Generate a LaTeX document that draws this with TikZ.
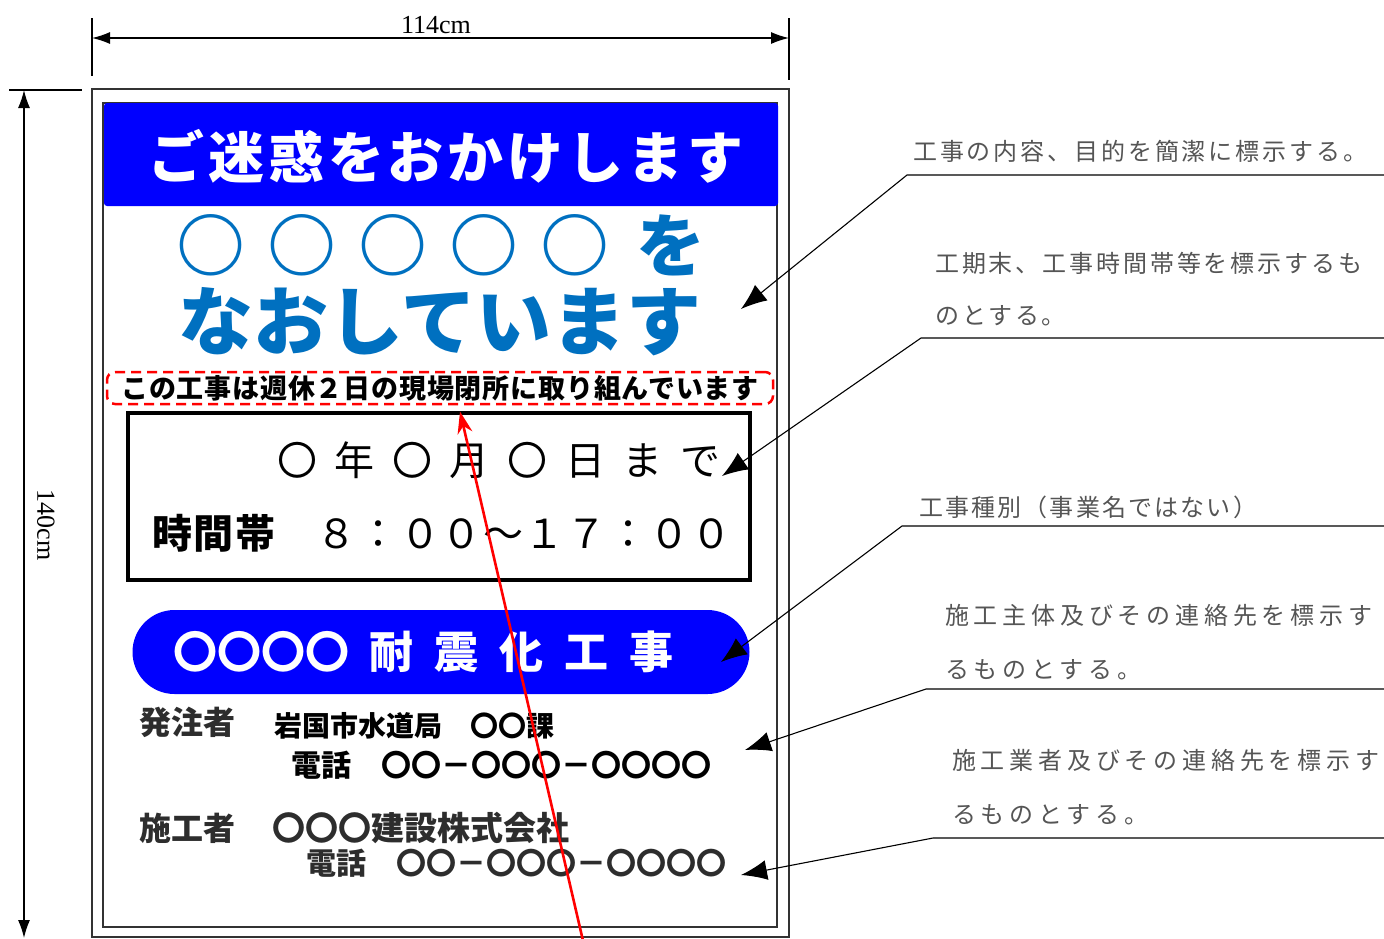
\documentclass[tikz,border=0pt]{standalone}
\usepackage{fontspec}
\setmainfont{Liberation Serif}
\newfontfamily\jp{Noto Sans CJK JP}
\newfontfamily\jplight{Noto Sans CJK JP Light}
\usepackage{tikz}
\usetikzlibrary{positioning, arrows, arrows.meta}
\definecolor{signblue}{RGB}{0,0,255}
\definecolor{textblue}{RGB}{0,112,192}
\definecolor{notegray}{RGB}{85,85,85}
\definecolor{inkgray}{RGB}{45,45,45}
\newcommand{\jpfont}[2]{\jp\fontsize{#1}{#1}\selectfont\addfontfeature{LetterSpace=#2}}
\newcommand{\jpbold}[2]{\jp\bfseries\fontsize{#1}{#1}\selectfont\addfontfeature{LetterSpace=#2}}

\begin{document}
\begin{tikzpicture}[x=1pt,y=-1pt,
    dimline/.style={line width=1.3pt,{Latex[length=18pt,width=12pt]}-{Latex[length=18pt,width=12pt]}},
    tickline/.style={line width=1.2pt},
    frame/.style={line width=1.6pt,draw=black!80},
    callout/.style={line width=1.1pt,-{Latex[length=26pt,width=20pt]}},
    redarrow/.style={red,line width=2.6pt,-{Stealth[length=22pt,width=15pt]}},
    note/.style={anchor=west,inner sep=0pt,align=left,text=notegray},
    signtext/.style={inner sep=0pt}]
    \useasboundingbox (0,0) rectangle (1384,938);

    % dimensions
    \draw[tickline] (92,18) -- (92,76) (789,18) -- (789,80) (9,90) -- (82,90);
    \coordinate (wleft) at (92,38);
    \coordinate (wright) at (789,38);
    \coordinate (htop) at (24,90);
    \coordinate (hbottom) at (24,938);
    \draw[dimline] (wleft) -- (wright);
    \draw[dimline] (htop) -- (hbottom);
    \node[signtext,font=\fontsize{26}{26}\selectfont] (width) at (436,25) {114cm};
    \node[signtext,font=\fontsize{26}{26}\selectfont,rotate=-90] (height) at (46,525) {140cm};

    % sign board
    \draw[frame] (92,89) rectangle (789,937);
    \draw[frame] (103,103) rectangle (777,927);
    \fill[signblue,rounded corners=3pt] (104,103) rectangle (778,206);
    \node[signtext,text=white,font=\jpbold{56}{7}] (header) at (446,156) {ご迷惑をおかけします};
    \node[signtext,anchor=west,text=textblue,font=\jplight\fontsize{69}{69}\selectfont\addfontfeature{LetterSpace=32}] (line1) at (176,245)
        {〇〇〇〇〇\hspace{27pt}{\jp\bfseries を}};
    \node[signtext,text=textblue,font=\jpbold{75}{0}] (line2) at (440,322) {なおしています};
    \node[draw=red,line width=2.5pt,dash pattern=on 10pt off 6pt,rounded corners=8pt,
        minimum width=666pt,minimum height=32pt,inner sep=0pt,font=\jpbold{27}{3}] (weekly) at (440,388)
        {この工事は週休２日の現場閉所に取り組んでいます};
    \node[draw,line width=4pt,minimum width=622pt,minimum height=167pt] (schedule) at (439,496) {};
    \node[signtext,anchor=west,font=\jpfont{40}{44}] (until) at (277,460) {〇年〇月〇日まで};
    \node[signtext,anchor=west,font=\jpfont{40}{4}] (hours) at (152,533) {{\bfseries 時間帯}　８：００～１７：００};
    \node[fill=signblue,rounded corners=42pt,minimum width=617pt,minimum height=84pt] (worktype) at (441,652) {};
    \node[signtext,anchor=west,text=white,font=\jpbold{44}{0}] (worktext) at (173,652)
        {〇〇〇〇\hspace{20pt}耐\hspace{21pt}震\hspace{21pt}化\hspace{21pt}工\hspace{21pt}事};
    \node[signtext,anchor=west,text=inkgray,font=\jpbold{32}{0}] (orderer) at (139,722) {発注者};
    \node[signtext,anchor=west,font=\jpbold{28}{0}] (bureau) at (274,726) {岩国市水道局　〇〇課};
    \node[signtext,anchor=west,font=\jpbold{30}{0}] (tel1) at (291,765) {電話　〇〇－〇〇〇－〇〇〇〇};
    \node[signtext,anchor=west,text=inkgray,font=\jpbold{32}{0}] (builder) at (139,828) {施工者};
    \node[signtext,anchor=west,text=inkgray,font=\jpbold{33}{0}] (company) at (272,828) {〇〇〇建設株式会社};
    \node[signtext,anchor=west,text=inkgray,font=\jpbold{30}{0}] (tel2) at (306,863) {電話　〇〇－〇〇〇－〇〇〇〇};

    % notes on the right
    \node[note,font=\jpfont{24}{12}] (note1) at (913,151) {工事の内容、目的を簡潔に標示する。};
    \node[note,font=\jp\fontsize{24}{52}\selectfont\addfontfeature{LetterSpace=12}] (note2) at (935,289)
        {工期末、工事時間帯等を標示するも\\のとする。};
    \node[note,font=\jpfont{24}{9}] (note3) at (919,507) {工事種別（事業名ではない）};
    \node[note,font=\jp\fontsize{24}{54}\selectfont\addfontfeature{LetterSpace=20}] (note4) at (945,642)
        {施工主体及びその連絡先を標示す\\るものとする。};
    \node[note,font=\jp\fontsize{24}{54}\selectfont\addfontfeature{LetterSpace=20}] (note5) at (952,787)
        {施工業者及びその連絡先を標示す\\るものとする。};

    \coordinate (end1) at (1384,175);  \coordinate (knee1) at (907,175);  \coordinate (tip1) at (741,309);
    \coordinate (end2) at (1384,338);  \coordinate (knee2) at (921,338);  \coordinate (tip2) at (722,476);
    \coordinate (end3) at (1384,526);  \coordinate (knee3) at (902,526);  \coordinate (tip3) at (721,662);
    \coordinate (end4) at (1384,689);  \coordinate (knee4) at (926,689);  \coordinate (tip4) at (745,750);
    \coordinate (end5) at (1384,838);  \coordinate (knee5) at (933,838);  \coordinate (tip5) at (741,875);
    \foreach \i in {1,...,5}
        \draw[callout] (end\i) -- (knee\i) -- (tip\i);

    % red pointer
    \coordinate (redtail) at (584,945);
    \draw[redarrow] (redtail) -- ([xshift=21pt,yshift=-1pt]schedule.north);
\end{tikzpicture}
\end{document}
